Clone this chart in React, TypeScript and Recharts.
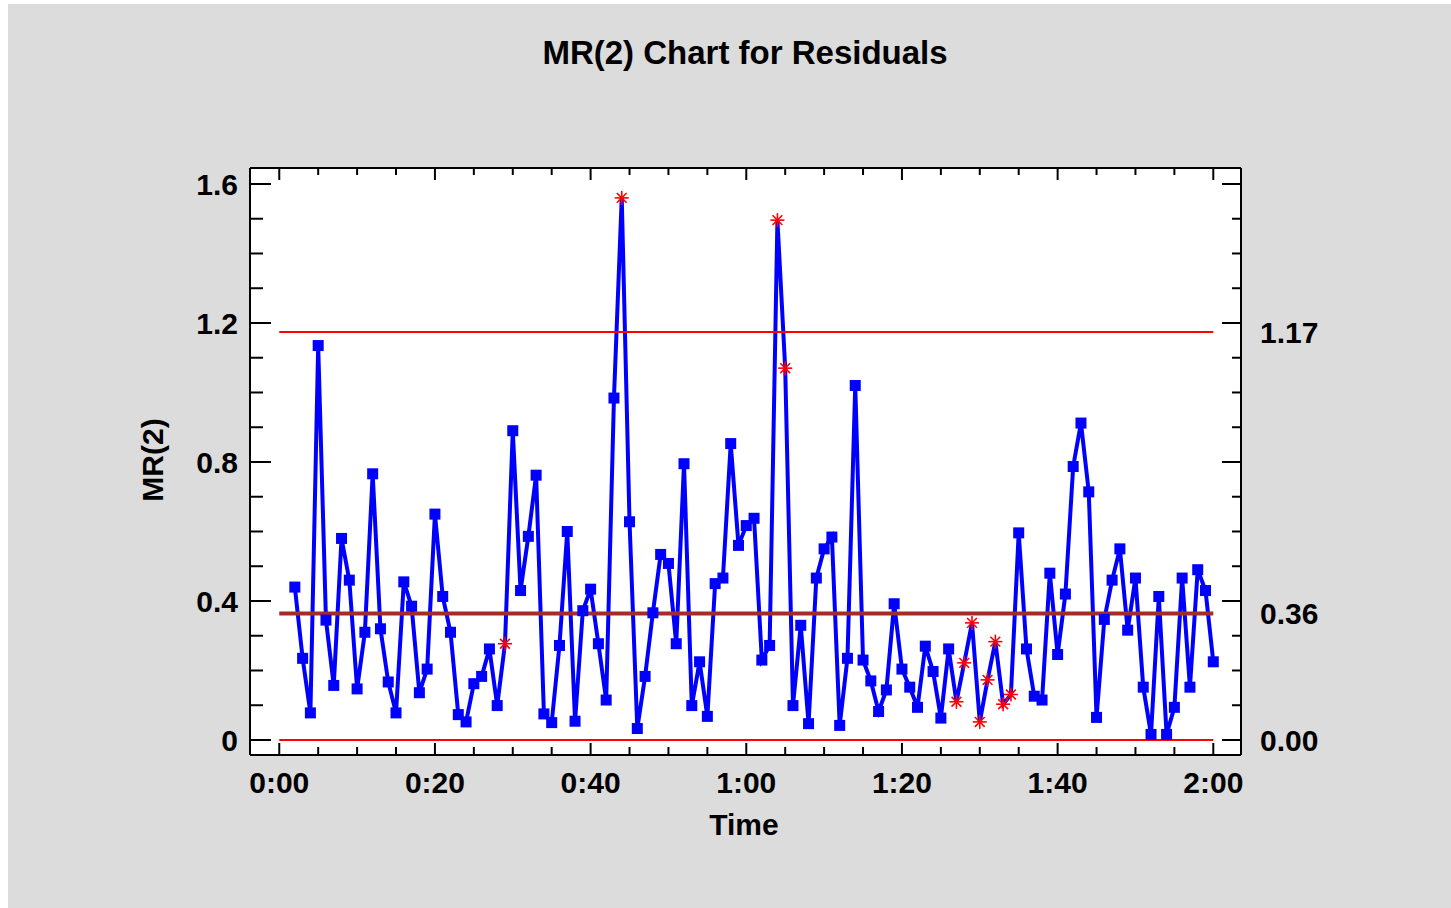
import React from 'react'
import { ComposedChart, Line, XAxis, YAxis, ReferenceLine, CartesianGrid } from 'recharts'

// MR(2) values, one per minute starting at 0:02
const START_MINUTE = 2
const mrValues = [
  0.44, 0.235, 0.078, 1.135, 0.345, 0.157, 0.58, 0.46, 0.147, 0.31,
  0.766, 0.32, 0.167, 0.078, 0.455, 0.385, 0.136, 0.204, 0.65, 0.413,
  0.31, 0.073, 0.052, 0.162, 0.183, 0.262, 0.099, 0.277, 0.89, 0.43,
  0.586, 0.762, 0.075, 0.05, 0.272, 0.6, 0.054, 0.372, 0.434, 0.277,
  0.115, 0.984, 1.56, 0.628, 0.033, 0.183, 0.366, 0.534, 0.508, 0.277,
  0.795, 0.099, 0.225, 0.068, 0.45, 0.466, 0.853, 0.56, 0.617, 0.638,
  0.23, 0.272, 1.496, 1.07, 0.099, 0.33, 0.047, 0.466, 0.55, 0.584,
  0.042, 0.235, 1.02, 0.23, 0.17, 0.082, 0.144, 0.392, 0.204, 0.152,
  0.094, 0.27, 0.197, 0.063, 0.262, 0.11, 0.222, 0.337, 0.052, 0.173,
  0.283, 0.103, 0.131, 0.596, 0.262, 0.126, 0.115, 0.48, 0.246, 0.42,
  0.787, 0.912, 0.714, 0.065, 0.347, 0.46, 0.55, 0.316, 0.466, 0.152,
  0.016, 0.413, 0.016, 0.094, 0.466, 0.152, 0.49, 0.43, 0.225
]

// minutes plotted with a red star instead of a square
const flaggedMinutes = [29, 44, 64, 65, 87, 88, 89, 90, 91, 92, 93, 94]

// control limits
const UCL = 1.174
const CL = 0.364
const LCL = 0
const limitLabels = [UCL, CL, LCL]

const xTicks = [0, 5, 10, 15, 20, 25, 30, 35, 40, 45, 50, 55, 60, 65, 70, 75, 80, 85, 90, 95, 100, 105, 110, 115, 120]
const yTicks = [0, 0.1, 0.2, 0.3, 0.4, 0.5, 0.6, 0.7, 0.8, 0.9, 1, 1.1, 1.2, 1.3, 1.4, 1.5, 1.6]

const X_MIN = -3.76
const X_MAX = 123.56
const Y_MIN = -0.0432
const Y_MAX = 1.646

const rows = mrValues.map((v, i) => ({ t: START_MINUTE + i, mr: v }))

const FONT = '"Liberation Sans", Arial, sans-serif'

const isMult = (v: number, step: number) => Math.abs(v / step - Math.round(v / step)) < 1e-6
const fmtTime = (m: number) => `${Math.floor(m / 60)}:${String(m % 60).padStart(2, '0')}`

const BottomTick = ({ x, y, payload }: any) => {
  const v = payload.value
  const major = isMult(v, 20)
  return (
    <g>
      <line x1={x} x2={x} y1={y} y2={y - (major ? 12 : 8)} stroke="#000" strokeWidth={2} />
      {major && (
        <text x={x} y={y + 38} textAnchor="middle" fontFamily={FONT} fontWeight="bold" fontSize={30} fill="#000">
          {fmtTime(v)}
        </text>
      )}
    </g>
  )
}

const TopTick = ({ x, y, payload }: any) => {
  const major = isMult(payload.value, 20)
  return <line x1={x} x2={x} y1={y} y2={y + (major ? 12 : 7)} stroke="#000" strokeWidth={2} />
}

const LeftTick = ({ x, y, payload }: any) => {
  const v = payload.value
  const major = isMult(v, 0.4)
  return (
    <g>
      <line x1={x} x2={x + (major ? 21 : 13)} y1={y} y2={y} stroke="#000" strokeWidth={2} />
      {major && (
        <text x={x - 12} y={y} dy="0.36em" textAnchor="end" fontFamily={FONT} fontWeight="bold" fontSize={30} fill="#000">
          {Number(v.toFixed(1)).toString()}
        </text>
      )}
    </g>
  )
}

const RightTick = ({ x, y, payload }: any) => {
  const v = payload.value
  const grid = isMult(v, 0.1)
  const major = isMult(v, 0.4)
  const isLimit = limitLabels.some((l) => Math.abs(l - v) < 1e-9)
  return (
    <g>
      {grid && <line x1={x} x2={x - (major ? 19 : 9)} y1={y} y2={y} stroke="#000" strokeWidth={2} />}
      {isLimit && (
        <text x={x + 19} y={y} dy="0.36em" textAnchor="start" fontFamily={FONT} fontWeight="bold" fontSize={30} fill="#000">
          {v.toFixed(2)}
        </text>
      )}
    </g>
  )
}

const renderDot = (props: any) => {
  const { cx, cy, payload, index } = props
  if (flaggedMinutes.includes(payload.t)) {
    const r = 7
    const d = r * 0.7
    return (
      <g key={`d-${index}`} stroke="#FF0000" strokeWidth={1.6}>
        <line x1={cx - r} x2={cx + r} y1={cy} y2={cy} />
        <line x1={cx} x2={cx} y1={cy - r} y2={cy + r} />
        <line x1={cx - d} x2={cx + d} y1={cy - d} y2={cy + d} />
        <line x1={cx - d} x2={cx + d} y1={cy + d} y2={cy - d} />
      </g>
    )
  }
  return <rect key={`d-${index}`} x={cx - 5.5} y={cy - 5.5} width={11} height={11} fill="#0000FF" />
}

export default function App() {
  const rightTicks = [...yTicks, CL, UCL]
  return (
    <div style={{ position: 'relative', width: 1451, height: 908, background: '#fff', overflow: 'hidden' }}>
      <style>{'body{margin:0}'}</style>
      <div style={{ position: 'absolute', left: 8, top: 4, width: 1443, height: 904, background: '#DCDCDC' }} />
      <div style={{ position: 'absolute', left: 0, top: 0 }}>
        <ComposedChart
          width={1451}
          height={908}
          data={rows}
          margin={{ top: 138, right: 130, bottom: 93, left: 190 }}
        >
          <CartesianGrid fill="#fff" horizontal={false} vertical={false} stroke="none" />
          <XAxis
            xAxisId="b"
            dataKey="t"
            type="number"
            domain={[X_MIN, X_MAX]}
            allowDataOverflow
            ticks={xTicks}
            interval={0}
            tickLine={false}
            tickSize={0}
            tickMargin={0}
            height={60}
            axisLine={{ stroke: '#000', strokeWidth: 2 }}
            tick={<BottomTick />}
          />
          <XAxis
            xAxisId="t"
            orientation="top"
            dataKey="t"
            type="number"
            domain={[X_MIN, X_MAX]}
            allowDataOverflow
            ticks={xTicks}
            interval={0}
            tickLine={false}
            tickSize={0}
            tickMargin={0}
            height={30}
            axisLine={{ stroke: '#000', strokeWidth: 2 }}
            tick={<TopTick />}
          />
          <YAxis
            yAxisId="l"
            type="number"
            domain={[Y_MIN, Y_MAX]}
            allowDataOverflow
            ticks={yTicks}
            interval={0}
            tickLine={false}
            tickSize={0}
            tickMargin={0}
            width={60}
            axisLine={{ stroke: '#000', strokeWidth: 2 }}
            tick={<LeftTick />}
          />
          <YAxis
            yAxisId="r"
            orientation="right"
            type="number"
            domain={[Y_MIN, Y_MAX]}
            allowDataOverflow
            ticks={rightTicks}
            interval={0}
            tickLine={false}
            tickSize={0}
            tickMargin={0}
            width={80}
            axisLine={{ stroke: '#000', strokeWidth: 2 }}
            tick={<RightTick />}
          />
          <Line
            xAxisId="b"
            yAxisId="l"
            type="linear"
            dataKey="mr"
            stroke="#0000FF"
            strokeWidth={4}
            dot={renderDot}
            activeDot={false}
            isAnimationActive={false}
          />
          <ReferenceLine
            xAxisId="b"
            yAxisId="l"
            segment={[{ x: 0, y: UCL }, { x: 120, y: UCL }]}
            stroke="#FF0000"
            strokeWidth={2}
          />
          <ReferenceLine
            xAxisId="b"
            yAxisId="l"
            segment={[{ x: 0, y: CL }, { x: 120, y: CL }]}
            stroke="#A52A2A"
            strokeWidth={4}
          />
          <ReferenceLine
            xAxisId="b"
            yAxisId="l"
            segment={[{ x: 0, y: LCL }, { x: 120, y: LCL }]}
            stroke="#FF0000"
            strokeWidth={2}
          />
        </ComposedChart>
      </div>
      <svg width={1451} height={908} style={{ position: 'absolute', left: 0, top: 0, pointerEvents: 'none' }}>
        <text x={745} y={64} textAnchor="middle" fontFamily={FONT} fontWeight="bold" fontSize={33} fill="#000">
          MR(2) Chart for Residuals
        </text>
        <text x={744} y={835} textAnchor="middle" fontFamily={FONT} fontWeight="bold" fontSize={30} fill="#000">
          Time
        </text>
        <text
          x={163}
          y={460}
          textAnchor="middle"
          transform="rotate(-90 163 460)"
          fontFamily={FONT}
          fontWeight="bold"
          fontSize={30}
          fill="#000"
        >
          MR(2)
        </text>
      </svg>
    </div>
  )
}
